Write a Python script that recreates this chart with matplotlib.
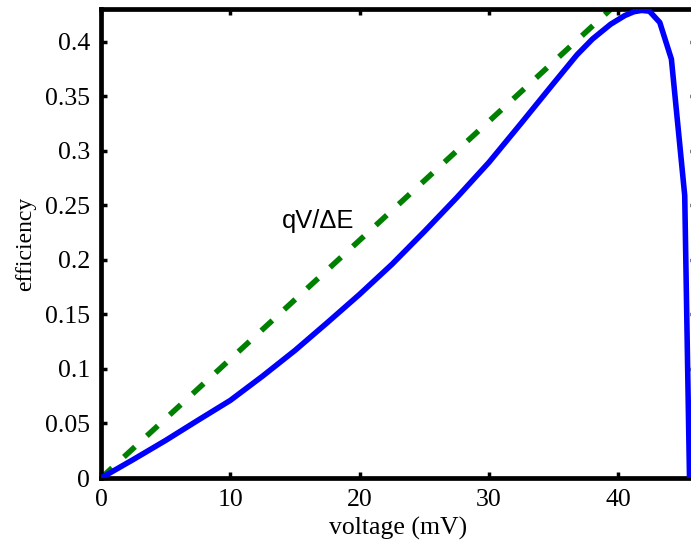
import matplotlib
matplotlib.use('Agg')
import matplotlib.pyplot as plt
import numpy as np

# efficiency vs voltage
voltage = [0, 2.5, 5, 7.5, 10, 12.5, 15, 17.5, 20, 22.5, 25, 27.5, 30,
           32.5, 35, 36.8, 38, 39.4, 40.5, 41.2, 41.8, 42.4, 43.2, 44.1,
           45.13, 45.5]
efficiency = [0, 0.017, 0.0345, 0.053, 0.0712, 0.0935, 0.117, 0.1425,
              0.1685, 0.196, 0.226, 0.257, 0.2895, 0.3255, 0.362, 0.388,
              0.4025, 0.416, 0.424, 0.4275, 0.4287, 0.428, 0.4177, 0.384,
              0.259, 0]

# ideal limit qV/dE
dE = 91.7  # meV
v_ideal = [0, 40]
eff_ideal = [v / dE for v in v_ideal]

xticks = [0, 10, 20, 30, 40]
yticks = [0, 0.05, 0.1, 0.15, 0.2, 0.25, 0.3, 0.35, 0.4]
ytick_labels = ['0', '0.05', '0.1', '0.15', '0.2', '0.25', '0.3', '0.35', '0.4']

fig = plt.figure(figsize=(6.91, 5.45), dpi=100)
ax = fig.add_axes([0.1462, 0.1229, 0.8610, 0.8606])

ax.plot(voltage, efficiency, color='#0000ff', lw=4.0, zorder=3)
ln, = ax.plot(v_ideal, eff_ideal, color='#008000', lw=4.0, zorder=2)
ln.set_dashes((2.7, 2.9))

ax.text(13.97, 0.229, 'qV/\u0394E', family='Liberation Sans', fontsize=18.4,
        ha='left', va='baseline')

ax.set_xlim(0, 46)
ax.set_ylim(0, 0.43)
ax.set_xticks(xticks)
ax.set_yticks(yticks)
ax.set_yticklabels(ytick_labels)

for s in ax.spines.values():
    s.set_linewidth(3.4)
ax.tick_params(direction='in', length=4, width=2.5, top=True, right=True,
               labelsize=18.5, pad=8)
for lab in ax.get_xticklabels() + ax.get_yticklabels():
    lab.set_family('Liberation Serif')

ax.set_xlabel('voltage (mV)', family='Liberation Serif', fontsize=18.5,
              labelpad=4)
ax.set_ylabel('efficiency', family='Liberation Serif', fontsize=17,
              labelpad=6)

fig.savefig('out.png', dpi=100)
